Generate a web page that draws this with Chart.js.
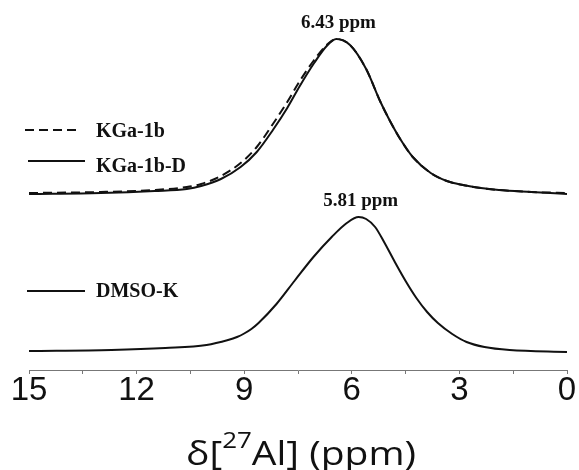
<!DOCTYPE html>
<html>
<head>
<meta charset="utf-8">
<script src="https://cdn.jsdelivr.net/npm/chart.js"></script>
<style>
  body { margin: 0; background: #fff; }
  #wrap { width: 579px; height: 470px; }
</style>
</head>
<body>
<div id="wrap"><canvas id="nmrChart"></canvas></div>
<script>
// 27Al NMR spectra, chemical shift in ppm (axis runs 15 -> 0), intensity in arbitrary units (stacked offsets)

const ppmUpper = [15, 13, 11.5, 10.6, 10.2, 9.65, 9.1, 8.65, 8.2, 7.8, 7.45, 7.05, 6.7, 6.43, 6.05, 5.6, 5.2, 4.95, 4.65, 4.3, 3.8, 3.35, 2.9, 2.4, 1.9, 1, 0];
const kga1bD = [176, 177, 179, 181, 184, 191, 203, 218, 240, 262, 284, 307, 324, 331, 325, 301, 268, 250, 231, 213, 197, 189, 185, 182, 180, 178, 176];
const kga1b  = [177, 178, 180, 183, 186, 194, 207, 223, 246, 268, 289, 310, 325, 331, 325, 301, 268, 250, 231, 213, 197, 189, 185, 182, 180, 178, 177];

const ppmLower = [15, 12.7, 11.2, 10.05, 9.45, 9.2, 9.0, 8.8, 8.6, 8.1, 7.6, 7.07, 6.56, 6.14, 5.81, 5.6, 5.35, 5.1, 4.8, 4.5, 4.2, 3.9, 3.6, 3.2, 2.8, 2.3, 1.6, 0];
const dmsoK = [19, 20, 22, 25, 30, 33, 36.5, 41, 47, 66, 89, 113, 133, 147, 153, 151, 143, 128, 108, 89, 72, 58, 47, 36, 28, 23, 20, 18];

const xTicks = [15, 12, 9, 6, 3, 0];
const peakPpm = [6.43, 5.81];
const peakText = ["6.43 ppm", "5.81 ppm"];

function toPoints(xs, ys) {
  return xs.map((x, i) => ({ x: x, y: ys[i] }));
}

// legend drawn beside the curves, like in the figure
const sideLegend = {
  id: "sideLegend",
  afterDraw(chart, args, opts) {
    const ctx = chart.ctx;
    ctx.save();
    ctx.font = "bold 20px 'Liberation Serif'";
    ctx.fillStyle = "#111";
    ctx.textBaseline = "alphabetic";
    opts.rows.forEach(r => {
      const ds = chart.data.datasets[r.ds];
      ctx.strokeStyle = "#111";
      ctx.lineWidth = 2;
      ctx.setLineDash(ds.borderDash || []);
      ctx.beginPath();
      ctx.moveTo(r.x0, r.y);
      ctx.lineTo(r.x1, r.y);
      ctx.stroke();
      ctx.setLineDash([]);
      ctx.fillText(ds.label, 96, r.ty);
    });
    ctx.restore();
  }
};

// peak position labels
const peakLabels = {
  id: "peakLabels",
  afterDraw(chart) {
    const ctx = chart.ctx;
    const xs = chart.scales.x, ys = chart.scales.y;
    const tops = [Math.max(...kga1bD), Math.max(...dmsoK)];
    ctx.save();
    ctx.font = "bold 19px 'Liberation Serif'";
    ctx.fillStyle = "#111";
    ctx.textAlign = "center";
    ctx.textBaseline = "alphabetic";
    peakPpm.forEach((p, i) => {
      ctx.fillText(peakText[i], xs.getPixelForValue(p) + 2, ys.getPixelForValue(tops[i]) - 11);
    });
    ctx.restore();
  }
};

// axis title with superscript, stretched wide like the original figure
const axisTitle = {
  id: "axisTitle",
  afterDraw(chart) {
    const ctx = chart.ctx;
    const a = chart.chartArea;
    const big = "33px 'Open Sans'", small = "22px 'Open Sans'";
    const parts = [["\u03b4[", big, 0], ["27", small, -17], ["Al] (ppm)", big, 0]];
    const width = 230;
    ctx.save();
    ctx.fillStyle = "#111";
    ctx.textBaseline = "alphabetic";
    let w = 0;
    parts.forEach(p => { ctx.font = p[1]; w += ctx.measureText(p[0]).width; });
    const sx = width / w;
    ctx.translate((a.left + a.right) / 2 + 3 - width / 2, 465);
    ctx.scale(sx, 1);
    let x = 0;
    parts.forEach(p => {
      ctx.font = p[1];
      ctx.fillText(p[0], x, p[2]);
      x += ctx.measureText(p[0]).width;
    });
    ctx.restore();
  }
};

const ctx = document.getElementById("nmrChart").getContext("2d");

const nmrChart = new Chart(ctx, {
  type: "line",
  data: {
    datasets: [
      {
        label: "KGa-1b",
        data: toPoints(ppmUpper, kga1b),
        borderColor: "#111",
        borderWidth: 2,
        borderDash: [9, 5],
        pointRadius: 0,
        cubicInterpolationMode: "monotone",
      },
      {
        label: "KGa-1b-D",
        data: toPoints(ppmUpper, kga1bD),
        borderColor: "#111",
        borderWidth: 2,
        pointRadius: 0,
        cubicInterpolationMode: "monotone",
      },
      {
        label: "DMSO-K",
        data: toPoints(ppmLower, dmsoK),
        borderColor: "#111",
        borderWidth: 2,
        pointRadius: 0,
        cubicInterpolationMode: "monotone",
      },
    ],
  },
  options: {
    responsive: true,
    maintainAspectRatio: false,
    animation: false,
    layout: { padding: { left: 29, right: 12, top: 0, bottom: 63 } },
    scales: {
      x: {
        type: "linear",
        reverse: true,
        min: 0,
        max: 15,
        afterBuildTicks: (scale) => {
          const t = [];
          for (let v = 0; v <= 15; v += 1.5) t.push({ value: v });
          scale.ticks = t;
        },
        ticks: {
          autoSkip: false,
          maxRotation: 0,
          padding: 0,
          color: "#111",
          font: { family: "'Liberation Sans'", size: 33, lineHeight: 1 },
          callback: (v) => (xTicks.includes(v) ? String(v) : ""),
        },
        grid: { drawOnChartArea: false, tickLength: 4, tickColor: "#777" },
        border: { display: true, color: "#777", width: 1 },
      },
      y: { display: false, min: 0, max: 370 },
    },
    plugins: {
      legend: { display: false },
      tooltip: { enabled: false },
      sideLegend: {
        rows: [
          { ds: 0, x0: 25, x1: 80, y: 130, ty: 137 },
          { ds: 1, x0: 28, x1: 85, y: 161, ty: 172 },
          { ds: 2, x0: 27, x1: 85, y: 291, ty: 297 },
        ],
      },
    },
  },
  plugins: [sideLegend, peakLabels, axisTitle],
});
</script>
</body>
</html>
